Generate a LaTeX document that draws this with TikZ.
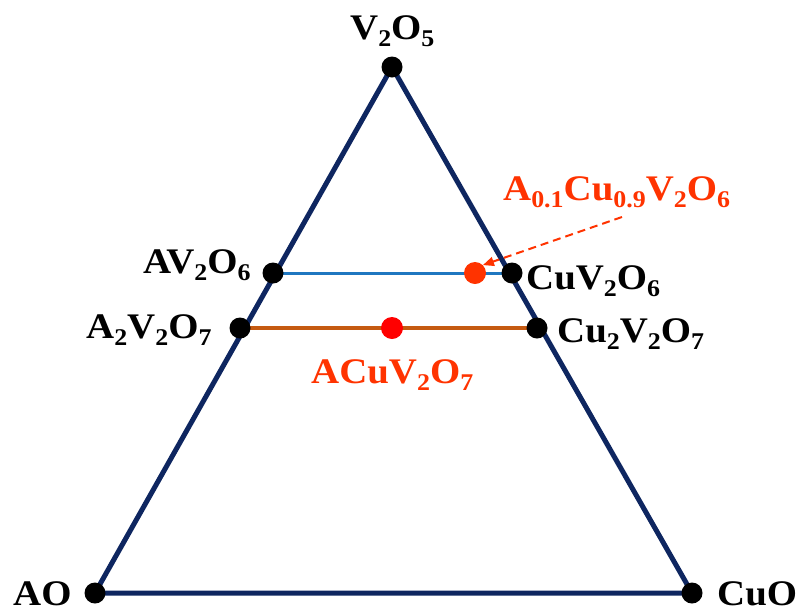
\documentclass[tikz,border=0pt]{standalone}
\usepackage{fontspec}
\setmainfont{Liberation Serif}[FakeStretch=1.08]
\usetikzlibrary{arrows.meta}
\definecolor{navy}{RGB}{14,38,96}
\definecolor{lineblue}{RGB}{31,119,192}
\definecolor{lineorange}{RGB}{197,90,17}
\definecolor{txtred}{RGB}{255,51,0}
\definecolor{dotred}{RGB}{255,0,0}
\newcommand{\sbs}[1]{\raisebox{-7pt}{\fontsize{24}{24}\selectfont #1}}
\tikzset{
  lbl/.style={font=\fontsize{36}{40}\bfseries\selectfont, inner sep=0pt, anchor=base west},
  bdot/.style={circle, fill=black, minimum size=21pt, inner sep=0pt},
  rdot/.style={circle, fill=#1, minimum size=22pt, inner sep=0pt},
  edge/.style={navy, line width=5pt, line join=round},
}
\begin{document}
\begin{tikzpicture}[x=1pt,y=-1pt]
\useasboundingbox (0,0) rectangle (801,614);
% vertices
\coordinate (top) at (392,67);
\coordinate (bl) at (95,593);
\coordinate (br) at (692,593);
\draw[edge] (top) -- (bl) -- (br) -- cycle;
% horizontal tie lines
\coordinate (av) at (273,273);
\coordinate (cv) at (512,273);
\coordinate (a2) at (240,328);
\coordinate (c2) at (537,328);
\draw[lineblue, line width=3pt] (av) -- (cv);
\draw[lineorange, line width=3.5pt] (a2) -- (c2);
% dots
\node[bdot] (dtop) at (top) {};
\node[bdot] (dbl) at (bl) {};
\node[bdot] (dbr) at (br) {};
\node[bdot] (dav) at (av) {};
\node[bdot] (dcv) at (cv) {};
\node[bdot] (da2) at (a2) {};
\node[bdot] (dc2) at (c2) {};
\node[rdot=txtred] (dmix) at (475,273) {};
\node[rdot=dotred] (dacu) at (392,328) {};
% labels
\node[lbl] (tV) at (350,39) {V\sbs{2}O\sbs{5}};
\node[lbl, txtred] (tMix) at (503,200) {A\sbs{0.1}Cu\sbs{0.9}V\sbs{2}O\sbs{6}};
\node[lbl] (tCV) at (526,289) {CuV\sbs{2}O\sbs{6}};
\node[lbl] (tAV) at (143,273) {AV\sbs{2}O\sbs{6}};
\node[lbl] (tA2) at (86,338) {A\sbs{2}V\sbs{2}O\sbs{7}};
\node[lbl] (tC2) at (557,342) {Cu\sbs{2}V\sbs{2}O\sbs{7}};
\node[lbl, txtred] (tACu) at (311,383) {ACuV\sbs{2}O\sbs{7}};
\node[lbl] (tAO) at (13,605) {AO};
\node[lbl] (tCuO) at (717,605) {CuO};
% arrow
\coordinate (arrS) at (622,217);
\draw[txtred, line width=2pt, dash pattern=on 8pt off 5pt, -{Triangle[length=11pt,width=9pt]}] (arrS) -- (dmix.north east);
\end{tikzpicture}
\end{document}
